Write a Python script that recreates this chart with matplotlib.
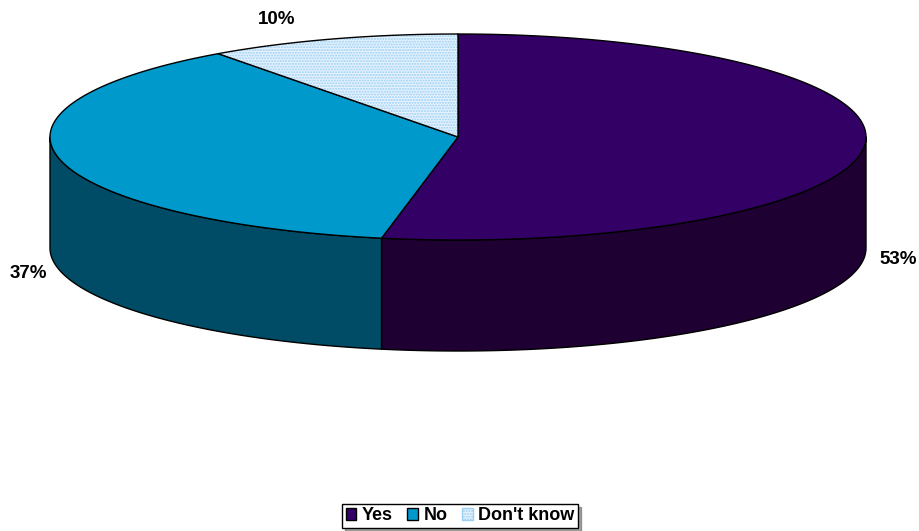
import numpy as np
import matplotlib
matplotlib.use("Agg")
import matplotlib.pyplot as plt
from matplotlib.patches import Polygon, Patch

categories = ["Yes", "No", "Don't know"]
values = [53, 37, 10]
labels = ["53%", "37%", "10%"]
top_colors = ["#330066", "#0099CC", "#E6F3FF"]
side_colors = ["#1F0033", "#004C66", "#A0C8E0"]

plt.rcParams['font.family'] = ['Liberation Sans', 'DejaVu Sans']
plt.rcParams['hatch.linewidth'] = 1.0

fig = plt.figure(figsize=(9.19, 5.31), dpi=100)
ax = fig.add_axes([0, 0, 1, 1])
ax.set_xlim(0, 919)
ax.set_ylim(531, 0)
ax.axis('off')

cx, cy, rx, ry, depth = 458, 137, 408, 103, 111

def pt(t, dy=0):
    return (cx + rx * np.sin(t), cy - ry * np.cos(t) + dy)

total = sum(values)
bounds = np.concatenate([[0], np.cumsum(values) / total]) * 2 * np.pi

# side faces
for i in range(len(values)):
    t1, t2 = max(bounds[i], np.pi / 2), min(bounds[i + 1], 3 * np.pi / 2)
    if t2 <= t1:
        continue
    ts = np.linspace(t1, t2, 200)
    top = [pt(t) for t in ts]
    bot = [pt(t, depth) for t in ts[::-1]]
    ax.add_patch(Polygon(top + bot, closed=True, facecolor=side_colors[i],
                         edgecolor='black', linewidth=1.0, joinstyle='round'))

# top faces
hatch_col = '#9CCFF2'
for i in range(len(values)):
    ts = np.linspace(bounds[i], bounds[i + 1], 300)
    verts = [(cx, cy)] + [pt(t) for t in ts]
    if i == 2:
        ax.add_patch(Polygon(verts, closed=True, facecolor=top_colors[i],
                             edgecolor=hatch_col, hatch='......', linewidth=0))
        ax.add_patch(Polygon(verts, closed=True, facecolor='none',
                             edgecolor='black', linewidth=1.0, joinstyle='round'))
    else:
        ax.add_patch(Polygon(verts, closed=True, facecolor=top_colors[i],
                             edgecolor='black', linewidth=1.0, joinstyle='round'))

label_pos = [(898, 260), (28, 273), (277, 20)]
for lab, (x, y) in zip(labels, label_pos):
    ax.text(x, y, lab, ha='center', va='center', fontsize=13.5, fontweight='bold')

handles = [Patch(facecolor=top_colors[0], edgecolor='black'),
           Patch(facecolor=top_colors[1], edgecolor='black'),
           Patch(facecolor=top_colors[2], edgecolor=hatch_col, hatch='......')]
leg = ax.legend(handles, categories, loc='center', bbox_to_anchor=(460 / 919, 1 - 516 / 531),
                ncol=3, frameon=True, fancybox=False, shadow=True,
                prop={'weight': 'bold', 'size': 13}, handlelength=0.6, handleheight=0.6,
                handletextpad=0.3, columnspacing=0.8, borderpad=0.2, borderaxespad=0)
leg.get_frame().set_edgecolor('black')
leg.get_frame().set_linewidth(1.0)

fig.savefig("out.png", dpi=100)
